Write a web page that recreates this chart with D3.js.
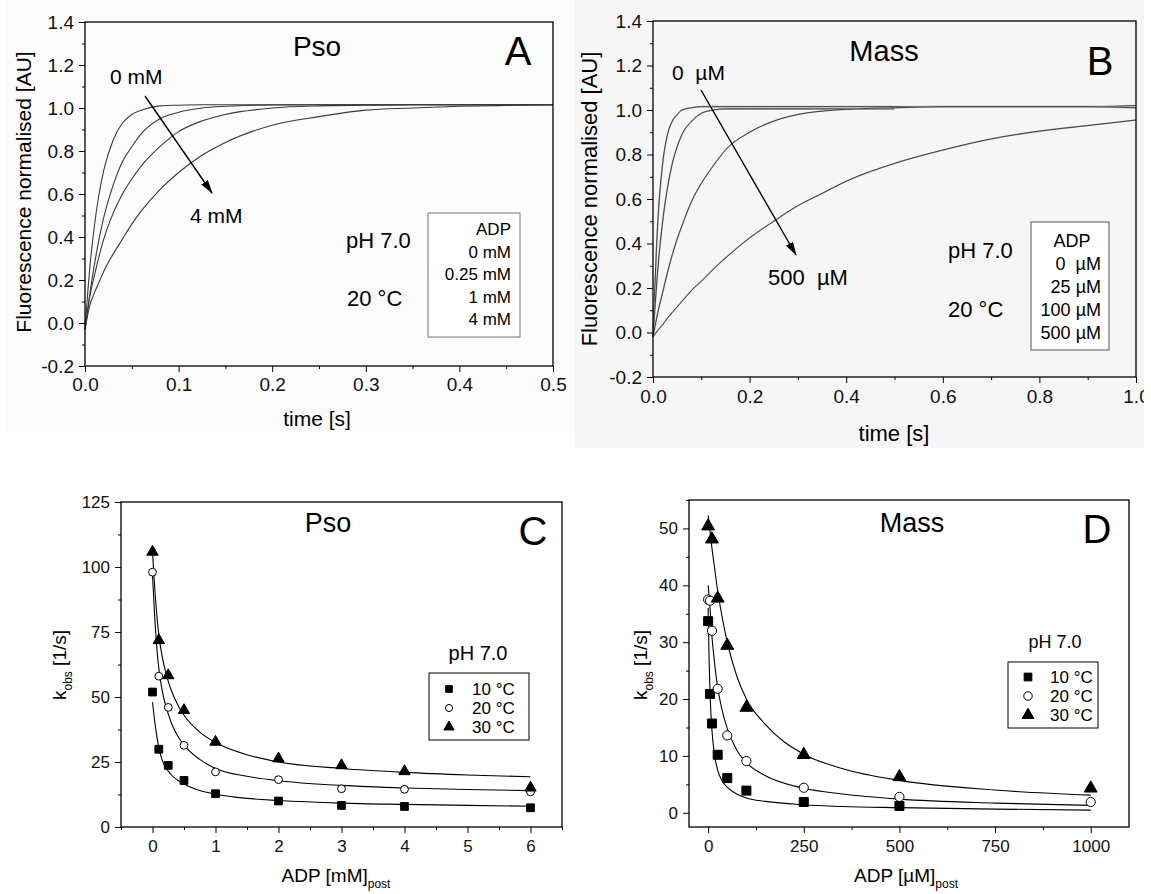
<!DOCTYPE html>
<html>
<head>
<meta charset="utf-8">
<script src="https://cdn.jsdelivr.net/npm/d3@7"></script>
<style>
  body { margin: 0; background: #fff; }
  svg { display: block; font-family: "Liberation Sans", Arial, sans-serif; }
  .pre { white-space: pre; }
</style>
</head>
<body>
<svg id="chart" width="1151" height="894"></svg>
<script>
// ---- panel A: Pso, fluorescence traces at 0 / 0.25 / 1 / 4 mM ADP
var timeA = [0, 0.005, 0.01, 0.015, 0.02, 0.03, 0.04, 0.05, 0.06, 0.08, 0.1, 0.125, 0.15, 0.2, 0.25, 0.3, 0.35, 0.4, 0.45, 0.5];
var traceA0   = [-0.03, 0.25, 0.45, 0.60, 0.71, 0.85, 0.93, 0.97, 0.99, 1.01, 1.013, 1.015, 1.015, 1.015, 1.015, 1.015, 1.015, 1.015, 1.015, 1.015];
var traceA025 = [-0.03, 0.13, 0.27, 0.39, 0.49, 0.64, 0.75, 0.82, 0.88, 0.95, 0.98, 1.0, 1.008, 1.014, 1.015, 1.015, 1.015, 1.015, 1.015, 1.015];
var traceA1   = [-0.03, 0.12, 0.22, 0.31, 0.39, 0.51, 0.60, 0.67, 0.73, 0.82, 0.89, 0.94, 0.97, 1.0, 1.01, 1.013, 1.015, 1.015, 1.015, 1.015];
var traceA4   = [-0.03, 0.08, 0.14, 0.19, 0.24, 0.32, 0.39, 0.46, 0.52, 0.62, 0.70, 0.78, 0.84, 0.92, 0.96, 0.99, 1.0, 1.008, 1.012, 1.015];
var legendA = ["ADP", "0 mM", "0.25 mM", "1 mM", "4 mM"];

// ---- panel B: Mass, traces at 0 / 25 / 100 / 500 µM ADP
var timeB = [0, 0.01, 0.02, 0.03, 0.04, 0.05, 0.06, 0.08, 0.1, 0.125, 0.15, 0.2, 0.25, 0.3, 0.35, 0.4, 0.5, 0.6, 0.7, 0.8, 0.9, 1.0];
var traceB0   = [-0.02, 0.50, 0.76, 0.89, 0.95, 0.98, 1.0, 1.01, 1.015, 1.015, 1.015, 1.015, 1.015, 1.015, 1.015, 1.015, 1.015, 1.015, 1.015, 1.015, 1.015, 1.02];
var traceB25  = [-0.02, 0.285, 0.50, 0.65, 0.76, 0.835, 0.89, 0.95, 0.985, 1.0, 1.005, 1.005, 1.005, 1.005, 1.005, 1.005, 1.005, null, null, null, null, null];
var traceB100 = [-0.02, 0.09, 0.18, 0.27, 0.35, 0.42, 0.48, 0.59, 0.67, 0.75, 0.82, 0.90, 0.95, 0.98, 0.995, 1.003, 1.01, 1.015, 1.015, 1.015, 1.015, 1.01];
var traceB500 = [-0.02, 0.01, 0.035, 0.065, 0.09, 0.115, 0.14, 0.19, 0.23, 0.285, 0.335, 0.425, 0.50, 0.57, 0.625, 0.68, 0.76, 0.82, 0.87, 0.905, 0.93, 0.955];
var legendB = ["ADP", "0  \u00b5M", "25 \u00b5M", "100 \u00b5M", "500 \u00b5M"];

// ---- panel C: Pso kobs vs ADP [mM]
var adpC = [0, 0.1, 0.25, 0.5, 1, 2, 3, 4, 6];
var kC10 = [51.9, 29.9, 23.7, 17.9, 12.8, 10.0, 8.3, 7.9, 7.4];
var kC20 = [98.0, 58.0, 46.0, 31.4, 21.2, 18.2, 14.7, 14.5, 13.5];
var kC30 = [105.8, 71.8, 58.3, 44.9, 32.7, 26.3, 23.7, 21.4, 15.1];
var fitXC = [0, 0.05, 0.1, 0.15, 0.2, 0.25, 0.3, 0.4, 0.5, 0.75, 1, 1.5, 2, 3, 4, 5, 6];
var fitC10 = [48, 38, 30.5, 26, 23.2, 21.5, 20, 18, 16.5, 14, 12.6, 11, 10.2, 9.2, 8.7, 8.3, 8.0];
var fitC20 = [97, 75, 61, 53, 47.5, 43.5, 40, 35, 31.5, 26, 22.5, 19.5, 17.8, 16, 15, 14.4, 14];
var fitC30 = [106, 87, 74, 66, 60.5, 56, 52.5, 47, 43, 36.5, 32.5, 27.8, 25, 22.5, 21, 20, 19.3];

// ---- panel D: Mass kobs vs ADP [µM]
var adpD10 = [0, 5, 10, 25, 50, 100, 250, 500];
var kD10   = [33.7, 20.9, 15.7, 10.2, 6.1, 3.9, 1.9, 1.2];
var adpD20 = [0, 5, 10, 25, 50, 100, 250, 500, 1000];
var kD20   = [37.5, 37.3, 32.0, 21.8, 13.6, 9.1, 4.4, 2.8, 1.9];
var adpD30 = [0, 10, 25, 50, 100, 250, 500, 1000];
var kD30   = [50.4, 48.1, 37.7, 29.4, 18.5, 10.2, 6.3, 4.3];
var fitXD  = [0, 2.5, 5, 10, 15, 25, 35, 50, 75, 100, 150, 250, 350, 500, 750, 1000];
var fitD10 = [36, 27, 21, 14.5, 11, 7.5, 5.8, 4.5, 3.3, 2.6, 2.0, 1.4, 1.1, 0.9, 0.65, 0.47];
var fitD20 = [40, 38, 36, 31, 27.5, 22, 18.5, 14.8, 11, 8.8, 6.5, 4.3, 3.3, 2.4, 1.7, 1.3];
var fitD30 = [52.3, 51, 49.5, 46.5, 44, 39, 35, 30, 24, 20, 15.5, 10.3, 7.8, 5.7, 4, 3.1];
var tempLabels = ["10 \u00b0C", "20 \u00b0C", "30 \u00b0C"];

// tick values
var ticksFluor = [-0.2, 0, 0.2, 0.4, 0.6, 0.8, 1.0, 1.2, 1.4];
var minorFluor = [-0.1, 0.1, 0.3, 0.5, 0.7, 0.9, 1.1, 1.3];
var ticksTimeA = [0, 0.1, 0.2, 0.3, 0.4, 0.5];
var minorTimeA = [0.05, 0.15, 0.25, 0.35, 0.45];
var ticksTimeB = [0, 0.2, 0.4, 0.6, 0.8, 1.0];
var minorTimeB = [0.1, 0.3, 0.5, 0.7, 0.9];
var ticksKC = [0, 25, 50, 75, 100, 125];
var minorKC = [12.5, 37.5, 62.5, 87.5, 112.5];
var ticksAdpC = [0, 1, 2, 3, 4, 5, 6];
var minorAdpC = [-0.5, 0.5, 1.5, 2.5, 3.5, 4.5, 5.5, 6.5];
var ticksKD = [0, 10, 20, 30, 40, 50];
var minorKD = [5, 15, 25, 35, 45, 55];
var ticksAdpD = [0, 250, 500, 750, 1000];
var minorAdpD = [125, 375, 625, 875];

var svg = d3.select("#chart");
var fmt1 = function(d) { return d.toFixed(1); };

var defs = svg.append("defs");
defs.append("marker")
    .attr("id", "arrowhead")
    .attr("markerUnits", "userSpaceOnUse")
    .attr("markerWidth", 16).attr("markerHeight", 10)
    .attr("refX", 13).attr("refY", 4)
    .attr("orient", "auto")
  .append("path")
    .attr("d", "M0,0 L14,4 L0,8 Z")
    .attr("fill", "#000");
defs.append("clipPath").attr("id", "clipB")
  .append("rect").attr("x", 574).attr("y", 0).attr("width", 570).attr("height", 450);

function drawAxes(g, x, y, o) {
  var xr = x.range(), yr = y.range();
  g.append("g").attr("transform", "translate(0," + yr[0] + ")")
      .call(d3.axisBottom(x).tickValues(o.xMinor).tickSize(3).tickFormat("").tickSizeOuter(0))
      .call(function(s) { s.select(".domain").remove(); });
  g.append("g").attr("transform", "translate(" + xr[0] + ",0)")
      .call(d3.axisLeft(y).tickValues(o.yMinor).tickSize(3).tickFormat("").tickSizeOuter(0))
      .call(function(s) { s.select(".domain").remove(); });

  var xa = g.append("g").attr("transform", "translate(0," + yr[0] + ")")
      .call(d3.axisBottom(x).tickValues(o.xTicks).tickFormat(o.xFormat)
            .tickSize(6).tickPadding(o.xPad).tickSizeOuter(0));
  var ya = g.append("g").attr("transform", "translate(" + xr[0] + ",0)")
      .call(d3.axisLeft(y).tickValues(o.yTicks).tickFormat(o.yFormat)
            .tickSize(6).tickPadding(o.yPad).tickSizeOuter(0));
  [xa, ya].forEach(function(a) {
    a.attr("font-family", null).attr("font-size", o.tickFont);
    a.select(".domain").remove();
    a.selectAll("text").attr("fill", "#111");
  });

  g.append("rect")
      .attr("x", xr[0]).attr("y", yr[1])
      .attr("width", xr[1] - xr[0]).attr("height", yr[0] - yr[1])
      .attr("fill", "none").attr("stroke", "#000").attr("stroke-width", 1.3);
}

function label(g, txt, x, y, size, anchor) {
  return g.append("text")
      .attr("x", x).attr("y", y)
      .attr("font-size", size)
      .attr("text-anchor", anchor || "start")
      .attr("class", "pre")
      .text(txt);
}

function yTitle(g, x, y, size) {
  return g.append("text")
      .attr("transform", "translate(" + x + "," + y + ") rotate(-90)")
      .attr("text-anchor", "middle")
      .attr("font-size", size);
}

// ================= Panel A =================
var gA = svg.append("g");
gA.append("rect").attr("x", 5).attr("y", 0).attr("width", 567).attr("height", 432).attr("fill", "#fbfbfb");
var xA = d3.scaleLinear().domain([0, 0.5]).range([85, 553]);
var yA = d3.scaleLinear().domain([-0.2, 1.4]).range([366, 22]);

var lineA = d3.line().curve(d3.curveMonotoneX)
    .x(function(d, i) { return xA(timeA[i]); })
    .y(function(d) { return yA(d); });
[traceA0, traceA025, traceA1, traceA4].forEach(function(tr) {
  gA.append("path").attr("d", lineA(tr)).attr("fill", "none")
      .attr("stroke", "#3a3a3a").attr("stroke-width", 1.1);
});
drawAxes(gA, xA, yA, {
  xTicks: ticksTimeA, xMinor: minorTimeA, xFormat: fmt1, xPad: 6,
  yTicks: ticksFluor, yMinor: minorFluor, yFormat: fmt1, yPad: 5, tickFont: 19
});
label(gA, "time [s]", 317, 426, 21, "middle");
yTitle(gA, 31, 192, 21).text("Fluorescence normalised [AU]");
label(gA, "Pso", 317, 56, 28, "middle");
label(gA, "A", 518, 65, 40, "middle");
label(gA, "0 mM", 110, 84, 21);
label(gA, "4 mM", 190, 223, 21);
label(gA, "pH 7.0", 346, 248, 22);
label(gA, "20 \u00b0C", 347, 306, 22);
gA.append("line").attr("x1", 145).attr("y1", 96).attr("x2", 212).attr("y2", 193)
    .attr("stroke", "#000").attr("stroke-width", 1.4).attr("marker-end", "url(#arrowhead)");
gA.append("rect").attr("x", 428).attr("y", 213).attr("width", 92).attr("height", 124)
    .attr("fill", "#fff").attr("stroke", "#777").attr("stroke-width", 1);
legendA.forEach(function(t, i) {
  label(gA, t, 511, 235 + i * 22.5, 17, "end");
});

// ================= Panel B =================
var gB = svg.append("g").attr("clip-path", "url(#clipB)");
gB.append("rect").attr("x", 574).attr("y", 0).attr("width", 577).attr("height", 448).attr("fill", "#f6f6f6");
var xB = d3.scaleLinear().domain([0, 1]).range([653, 1136]);
var yB = d3.scaleLinear().domain([-0.2, 1.4]).range([377, 21]);
var lineB = d3.line().curve(d3.curveMonotoneX)
    .defined(function(d) { return d !== null; })
    .x(function(d, i) { return xB(timeB[i]); })
    .y(function(d) { return yB(d); });
[traceB0, traceB25, traceB100, traceB500].forEach(function(tr) {
  gB.append("path").attr("d", lineB(tr)).attr("fill", "none")
      .attr("stroke", "#b5b5b5").attr("stroke-width", 1.6);
  gB.append("path").attr("d", lineB(tr)).attr("fill", "none")
      .attr("stroke", "#222").attr("stroke-width", 0.8);
});
drawAxes(gB, xB, yB, {
  xTicks: ticksTimeB, xMinor: minorTimeB, xFormat: fmt1, xPad: 7,
  yTicks: ticksFluor, yMinor: minorFluor, yFormat: fmt1, yPad: 5, tickFont: 19
});
label(gB, "time [s]", 894, 441, 22, "middle");
yTitle(gB, 597, 199, 22).text("Fluorescence normalised [AU]");
label(gB, "Mass", 884, 61, 29, "middle");
label(gB, "B", 1100, 75, 40, "middle");
label(gB, "0  \u00b5M", 672, 80, 21);
label(gB, "500  \u00b5M", 768, 285, 22);
label(gB, "pH 7.0", 948, 258, 22);
label(gB, "20 \u00b0C", 948, 317, 22);
gB.append("line").attr("x1", 701).attr("y1", 90).attr("x2", 796).attr("y2", 255)
    .attr("stroke", "#000").attr("stroke-width", 1.4).attr("marker-end", "url(#arrowhead)");
gB.append("rect").attr("x", 1031).attr("y", 222).attr("width", 78).attr("height", 128)
    .attr("fill", "#fff").attr("stroke", "#555").attr("stroke-width", 1);
legendB.forEach(function(t, i) {
  if (i === 0) label(gB, t, 1072, 247, 18, "middle");
  else label(gB, t, 1101, 247 + i * 23, 18, "end");
});

// ================= Panels C and D: kobs =================
var symbols = [d3.symbolSquare, d3.symbolCircle, d3.symbolTriangle];
var fills = ["#000", "#fff", "#000"];

function drawMarks(g, x, y, xs, ys, idx, sizes) {
  var sym = d3.symbol().type(symbols[idx]).size(sizes[idx]);
  g.append("g").selectAll("path")
    .data(ys)
    .join("path")
      .attr("transform", function(d, i) { return "translate(" + x(xs[i]) + "," + y(d) + ")"; })
      .attr("d", sym)
      .attr("fill", fills[idx])
      .attr("stroke", "#000")
      .attr("stroke-width", 1);
}

function drawFit(g, x, y, xs, ys) {
  var line = d3.line().curve(d3.curveMonotoneX)
      .x(function(d, i) { return x(xs[i]); })
      .y(function(d) { return y(d); });
  g.append("path").attr("d", line(ys)).attr("fill", "none")
      .attr("stroke", "#000").attr("stroke-width", 1.1);
}

function tempLegend(g, bx, by, bw, bh, symX, textX, base, step, sizes) {
  g.append("rect").attr("x", bx).attr("y", by).attr("width", bw).attr("height", bh)
      .attr("fill", "#fff").attr("stroke", "#000").attr("stroke-width", 1);
  tempLabels.forEach(function(t, i) {
    var yy = base + i * step;
    g.append("path")
        .attr("transform", "translate(" + symX + "," + (yy - 6) + ")")
        .attr("d", d3.symbol().type(symbols[i]).size(sizes[i]))
        .attr("fill", fills[i]).attr("stroke", "#000").attr("stroke-width", 1);
    label(g, t, textX, yy, 17);
  });
}

function xTitleSub(g, main, sub, cx, y) {
  var t = g.append("text").attr("x", cx).attr("y", y).attr("text-anchor", "middle").attr("font-size", 19);
  t.append("tspan").text(main);
  t.append("tspan").attr("font-size", 12).attr("dy", 6).text(sub);
}

function yTitleK(g, x, y) {
  var t = yTitle(g, x, y, 19);
  t.append("tspan").text("k");
  t.append("tspan").attr("font-size", 12).attr("dy", 6).text("obs");
  t.append("tspan").attr("dy", -6).text(" [1/s]");
}

// Panel C
var gC = svg.append("g");
var xC = d3.scaleLinear().domain([-0.5, 6.5]).range([121, 562]);
var yC = d3.scaleLinear().domain([0, 125]).range([827, 502]);
var sizesC = [60, 48, 56];
drawFit(gC, xC, yC, fitXC, fitC10);
drawFit(gC, xC, yC, fitXC, fitC20);
drawFit(gC, xC, yC, fitXC, fitC30);
drawMarks(gC, xC, yC, adpC, kC10, 0, sizesC);
drawMarks(gC, xC, yC, adpC, kC20, 1, sizesC);
drawMarks(gC, xC, yC, adpC, kC30, 2, sizesC);
drawAxes(gC, xC, yC, {
  xTicks: ticksAdpC, xMinor: minorAdpC, xFormat: d3.format("d"), xPad: 7,
  yTicks: ticksKC, yMinor: minorKC, yFormat: d3.format("d"), yPad: 5, tickFont: 17
});
xTitleSub(gC, "ADP [mM]", "post", 336, 882);
yTitleK(gC, 66, 665);
label(gC, "Pso", 328, 532, 27, "middle");
label(gC, "C", 533, 545, 40, "middle");
label(gC, "pH 7.0", 478, 660, 20, "middle");
tempLegend(gC, 429, 673, 100, 67, 449, 472, 695, 19, [44, 40, 46]);

// Panel D
var gD = svg.append("g");
var xD = d3.scaleLinear().domain([-50, 1100]).range([689, 1129]);
var yD = d3.scaleLinear().domain([-2.5, 55]).range([827, 500]);
var sizesD = [81, 66, 72];
drawFit(gD, xD, yD, fitXD, fitD10);
drawFit(gD, xD, yD, fitXD, fitD20);
drawFit(gD, xD, yD, fitXD, fitD30);
drawMarks(gD, xD, yD, adpD10, kD10, 0, sizesD);
drawMarks(gD, xD, yD, adpD20, kD20, 1, sizesD);
drawMarks(gD, xD, yD, adpD30, kD30, 2, sizesD);
drawAxes(gD, xD, yD, {
  xTicks: ticksAdpD, xMinor: minorAdpD, xFormat: d3.format("d"), xPad: 7,
  yTicks: ticksKD, yMinor: minorKD, yFormat: d3.format("d"), yPad: 5, tickFont: 17
});
xTitleSub(gD, "ADP [\u00b5M]", "post", 906, 882);
yTitleK(gD, 647, 665);
label(gD, "Mass", 912, 532, 27, "middle");
label(gD, "D", 1097, 543, 40, "middle");
label(gD, "pH 7.0", 1055, 648, 18, "middle");
tempLegend(gD, 1008, 662, 90, 66, 1028, 1050, 683, 19, [60, 56, 60]);
</script>
</body>
</html>
